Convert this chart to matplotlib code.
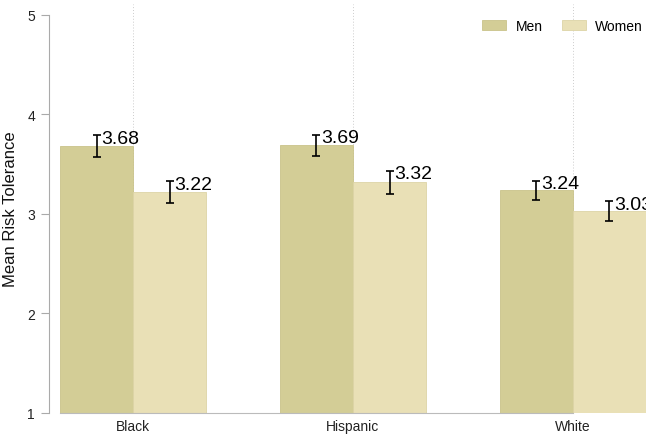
import matplotlib
matplotlib.use("Agg")
import matplotlib.pyplot as plt
import numpy as np

plt.rcParams['font.family'] = ['Liberation Sans', 'DejaVu Sans']

# datos
groups = ["Black", "Hispanic", "White"]
men = [3.68, 3.69, 3.24]
women = [3.22, 3.32, 3.03]
men_err = [0.11, 0.105, 0.095]
women_err = [0.11, 0.115, 0.10]
y_ticks = [1, 2, 3, 4, 5]

c_men = "#D3CD96"
c_women = "#E9E0B6"

fig = plt.figure(figsize=(6.46, 4.35), dpi=100)
ax = fig.add_axes([49 / 646, 21 / 435, 1 - 49 / 646, 409 / 435])

x = np.arange(len(groups))
w = 0.332

ax.bar(x - w / 2, np.array(men) - 1, w, bottom=1, color=c_men,
       edgecolor="#C9C38A", linewidth=0.6, label="Men", zorder=2)
ax.bar(x + w / 2, np.array(women) - 1, w, bottom=1, color=c_women,
       edgecolor="#DDD4A6", linewidth=0.6, label="Women", zorder=2)

ax.errorbar(x - w / 2, men, yerr=men_err, fmt="none", ecolor="black",
            elinewidth=1.2, capsize=3, capthick=1.2, zorder=3)
ax.errorbar(x + w / 2, women, yerr=women_err, fmt="none", ecolor="black",
            elinewidth=1.2, capsize=3, capthick=1.2, zorder=3)

# etiquetas de valor junto a la barra de error
for xi, v, e in zip(x - w / 2, men, men_err):
    ax.text(xi + 0.022, v + e - 0.03, f"{v:.2f}", fontsize=14,
            ha="left", va="center", color="black", zorder=4)
for xi, v, e in zip(x + w / 2, women, women_err):
    ax.text(xi + 0.022, v + e - 0.03, f"{v:.2f}", fontsize=14,
            ha="left", va="center", color="black", zorder=4, clip_on=True)

# lineas verticales punteadas
for xi in x:
    ax.axvline(xi, color="#CCCCCC", linestyle=(0, (1, 2)), linewidth=0.7, zorder=1)

ax.set_xlim(-0.382, 2.332)
ax.set_ylim(1, 5.11)
ax.set_yticks(y_ticks)
ax.set_xticks(x)
ax.set_xticklabels(groups, fontsize=10, color="#222222")
ax.tick_params(axis="x", length=0, pad=4)
ax.tick_params(axis="y", length=6, width=0.8, color="#AAAAAA",
               labelsize=10, labelcolor="#222222", pad=4)

ax.spines["top"].set_visible(False)
ax.spines["right"].set_visible(False)
ax.spines["left"].set_color("#AAAAAA")
ax.spines["left"].set_bounds(1, 5)
ax.spines["bottom"].set_color("#BBBBBB")
ax.spines["bottom"].set_bounds(-0.332, 2.0)

ax.set_ylabel("Mean Risk Tolerance", fontsize=12, color="#111111")
ax.yaxis.set_label_coords(-0.052, 0.5)

ax.legend(loc="upper right", ncol=2, frameon=False, fontsize=10,
          handlelength=1.7, handleheight=0.7, handletextpad=0.7,
          columnspacing=1.4, bbox_to_anchor=(1.016, 0.995))

fig.savefig("out.png", dpi=100)
